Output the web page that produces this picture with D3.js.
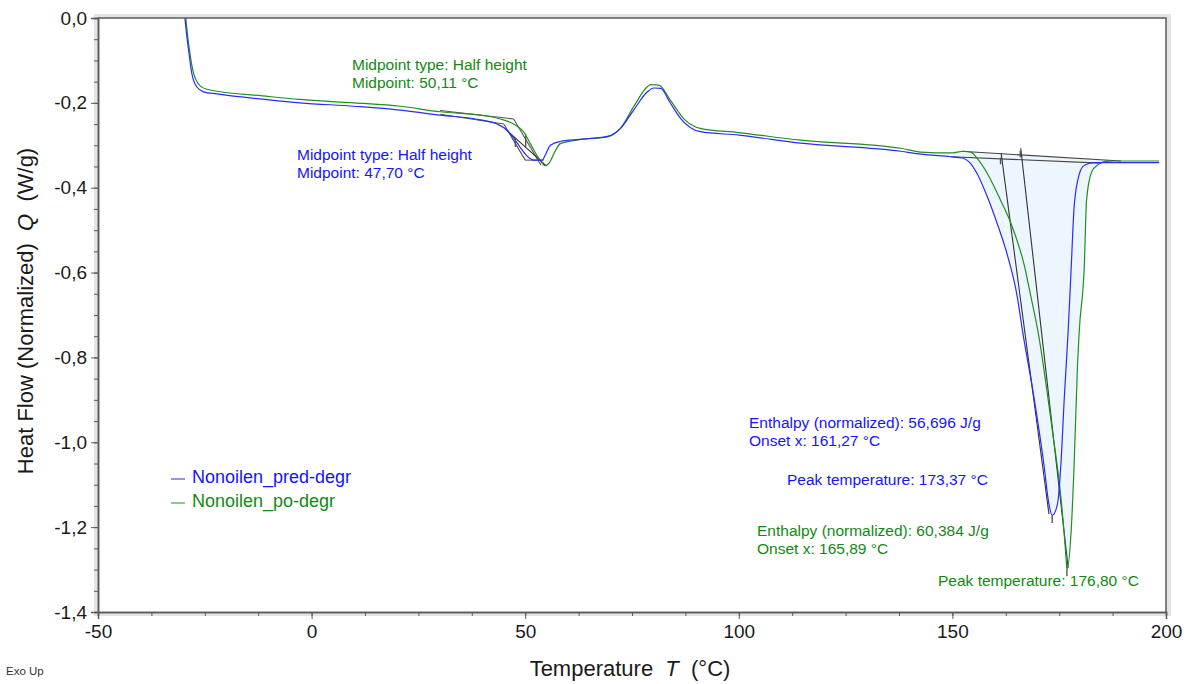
<!DOCTYPE html>
<html>
<head>
<meta charset="utf-8">
<script src="https://cdn.jsdelivr.net/npm/d3@7"></script>
<style>
  body { margin: 0; background: #fff; }
  svg { display: block; font-family: "Liberation Sans", Arial, sans-serif; }
  text { white-space: pre; }
</style>
</head>
<body>
<svg id="chart" width="1192" height="684"></svg>
<script>
// sample: Nonoilen_pred-degr (blue)
const predT = [-29.65, -29.3, -28.8, -28.05, -26.9, -25.3, -22.2, -10, -2.7, 10, 20.8, 30.1, 39.5, 43.4, 45.7, 47.3, 48.9, 50.4, 52.0, 54.0, 54.7, 55.9, 58.2, 62.9, 69.2, 72.3, 75.4, 78.6, 80.1, 81.7, 84.0, 86.4, 91.0, 100, 114.5, 137.9, 142.6, 149.6, 152.3, 153.9, 155.8, 158.2, 160.5, 162.9, 165.2, 166.4, 169.1, 171.4, 172.6, 173.37, 174.6, 175.4, 176.2, 177.1, 177.8, 178.5, 179.7, 180.9, 183.2, 189.5, 198.4];
const predQ = [0.0, -0.035, -0.075, -0.130, -0.162, -0.174, -0.179, -0.193, -0.200, -0.208, -0.217, -0.229, -0.240, -0.250, -0.264, -0.283, -0.306, -0.325, -0.335, -0.335, -0.323, -0.300, -0.291, -0.286, -0.279, -0.260, -0.217, -0.174, -0.165, -0.166, -0.201, -0.237, -0.268, -0.276, -0.295, -0.314, -0.321, -0.327, -0.330, -0.339, -0.367, -0.422, -0.485, -0.560, -0.658, -0.737, -0.894, -1.051, -1.146, -1.172, -1.146, -1.051, -0.894, -0.737, -0.590, -0.445, -0.368, -0.347, -0.341, -0.341, -0.341];

// sample: Nonoilen_po-degr (green)
const poT = [-29.45, -29.1, -28.6, -27.7, -26.1, -24.5, -10, -2.7, 10, 20.8, 30.1, 39.5, 44.2, 47.3, 49.6, 51.2, 53.2, 54.7, 55.5, 57.1, 58.2, 60.6, 62.9, 69.2, 72.3, 75.4, 78.6, 79.4, 81.3, 84.0, 87.1, 91.0, 100, 114.5, 137.9, 142.6, 149.6, 152.7, 154.3, 155.8, 158.2, 161.3, 163.9, 166.9, 168.4, 170.0, 173.4, 175.4, 176.6, 176.8, 177.8, 178.5, 179.3, 179.7, 180.9, 181.4, 182.6, 184.2, 185.9, 187.9, 198.4];
const poQ = [0.0, -0.035, -0.075, -0.127, -0.160, -0.168, -0.185, -0.192, -0.200, -0.208, -0.221, -0.229, -0.238, -0.250, -0.268, -0.296, -0.331, -0.348, -0.343, -0.312, -0.296, -0.290, -0.286, -0.280, -0.260, -0.209, -0.162, -0.157, -0.158, -0.194, -0.237, -0.260, -0.270, -0.288, -0.307, -0.316, -0.318, -0.314, -0.316, -0.331, -0.367, -0.430, -0.489, -0.586, -0.658, -0.737, -0.973, -1.130, -1.272, -1.300, -1.209, -1.051, -0.815, -0.737, -0.579, -0.430, -0.363, -0.345, -0.338, -0.337, -0.337];

// evaluation constructions [T, Q] pairs
const predTgLines = [[[30.1, -0.227], [45.0, -0.250]], [[45.0, -0.250], [50.0, -0.335]], [[50.0, -0.335], [54.3, -0.335]]];
const poTgLines = [[[30.1, -0.218], [47.3, -0.238]], [[47.3, -0.238], [53.7, -0.347]], [[45.4, -0.262], [55.0, -0.349]]];
const predTgMid = [47.70, -0.283, -0.304];
const poTgMid = [50.11, -0.276, -0.304];
const predBase = [[149.6, -0.327], [184.8, -0.342]];
const poBase = [[152.0, -0.314], [189.5, -0.337]];
const predOnsetLine = [[161.4, -0.318], [172.6, -1.169]];
const poOnsetLine = [[166.0, -0.307], [177.1, -1.296]];
const predOnset = [161.27, -0.329, -0.345];
const poOnset = [165.89, -0.313, -0.328];
const predPeak = [173.37, -1.172, -1.190];
const poPeak = [176.80, -1.300, -1.316];

const xTicks = [-50, 0, 50, 100, 150, 200];
const yTicks = [0, -0.2, -0.4, -0.6, -0.8, -1.0, -1.2, -1.4];

const seriesNames = ['Nonoilen_pred-degr', 'Nonoilen_po-degr'];
const predLabels = ['Midpoint type: Half height', 'Midpoint: 47,70 °C', 'Enthalpy (normalized): 56,696 J/g', 'Onset x: 161,27 °C', 'Peak temperature: 173,37 °C'];
const poLabels = ['Midpoint type: Half height', 'Midpoint: 50,11 °C', 'Enthalpy (normalized): 60,384 J/g', 'Onset x: 165,89 °C', 'Peak temperature: 176,80 °C'];

const BLUE = '#2a2aff', GREEN = '#1f8f1f';
const TXT_BLUE = '#1414ff', TXT_GREEN = '#128a12';

const svg = d3.select('#chart');
const L = 98, R = 1166, T = 18, B = 612;
const x = d3.scaleLinear().domain([-50, 200]).range([L, R]);
const y = d3.scaleLinear().domain([-1.4, 0]).range([B, T]);
const loc = d3.formatLocale({decimal: ',', thousands: '.', grouping: [3], currency: ['', ''], minus: '-'});

// frame shadow + plot background
svg.append('rect').attr('x', L - 4).attr('y', T - 4).attr('width', R - L + 9).attr('height', B - T + 8).attr('fill', '#e4e4e4');
svg.append('rect').attr('x', L).attr('y', T).attr('width', R - L).attr('height', B - T).attr('fill', '#fff');

svg.append('clipPath').attr('id', 'plotclip')
  .append('rect').attr('x', L).attr('y', T).attr('width', R - L).attr('height', B - T);
const plot = svg.append('g').attr('clip-path', 'url(#plotclip)');

// linear lookup used for the enthalpy fill
function interp(ts, qs, t) {
  const i = d3.bisectRight(ts, t);
  if (i <= 0) return qs[0];
  if (i >= ts.length) return qs[qs.length - 1];
  const f = (t - ts[i - 1]) / (ts[i] - ts[i - 1]);
  return qs[i - 1] + f * (qs[i] - qs[i - 1]);
}
const baseAt = t => poBase[0][1] + (t - poBase[0][0]) / (poBase[1][0] - poBase[0][0]) * (poBase[1][1] - poBase[0][1]);
const fillData = d3.range(150, 189.5, 0.1).map(t => {
  const top = baseAt(t);
  const low = Math.min(interp(predT, predQ, t), interp(poT, poQ, t), top);
  return [t, top, low];
});
plot.append('path')
  .datum(fillData)
  .attr('fill', '#edf5fd')
  .attr('d', d3.area().x(d => x(d[0])).y0(d => y(d[1])).y1(d => y(d[2])));

// construction lines
const seg = d3.line().x(d => x(d[0])).y(d => y(d[1]));
const cons = plot.append('g').attr('fill', 'none').attr('stroke-width', 1.1);
predTgLines.concat(poTgLines).forEach((s, i) => {
  cons.append('path').attr('d', seg(s)).attr('stroke', i === 5 ? '#222' : '#555');
});
[predBase, poBase].forEach(s => cons.append('path').attr('d', seg(s)).attr('stroke', '#444'));
[predOnsetLine, poOnsetLine].forEach(s => cons.append('path').attr('d', seg(s)).attr('stroke', '#333'));
[predTgMid, poTgMid, predOnset, poOnset, predPeak, poPeak].forEach(m => {
  cons.append('path').attr('d', seg([[m[0], m[1]], [m[0], m[2]]])).attr('stroke', '#555').attr('stroke-width', 1.4);
});

// curves
const line = d3.line().x(d => x(d[0])).y(d => y(d[1])).curve(d3.curveMonotoneX);
plot.append('path').datum(d3.zip(poT, poQ))
  .attr('fill', 'none').attr('stroke', GREEN).attr('stroke-width', 1.2).attr('d', line);
plot.append('path').datum(d3.zip(predT, predQ))
  .attr('fill', 'none').attr('stroke', BLUE).attr('stroke-width', 1.2).attr('d', line);

// top and right border
svg.append('path').attr('d', `M${L},${T}H${R}V${B}`).attr('fill', 'none').attr('stroke', '#5a5a5a').attr('stroke-width', 1.5);

// axes
function styleAxis(g) {
  g.select('.domain').attr('stroke', '#5a5a5a').attr('stroke-width', 1.5);
  g.selectAll('.tick line').attr('stroke', '#5a5a5a');
  g.selectAll('.tick text').attr('fill', '#1a1a1a').attr('font-size', 19);
}
svg.append('g').attr('transform', `translate(0,${B})`)
  .call(d3.axisBottom(x).tickValues(d3.range(-50, 200.1, 12.5)).tickSize(4).tickFormat(''))
  .call(styleAxis);
svg.append('g').attr('transform', `translate(${L},0)`)
  .call(d3.axisLeft(y).tickValues(d3.range(0, 28.1, 1).map(i => -i * 0.05)).tickSize(4).tickFormat(''))
  .call(styleAxis);
svg.append('g').attr('transform', `translate(0,${B})`)
  .call(d3.axisBottom(x).tickValues(xTicks).tickSize(7).tickPadding(6).tickFormat(loc.format('d')))
  .call(styleAxis);
svg.append('g').attr('transform', `translate(${L},0)`)
  .call(d3.axisLeft(y).tickValues(yTicks).tickSize(7).tickPadding(4).tickFormat(loc.format('.1f')))
  .call(styleAxis);

// axis titles
const xt = svg.append('text').attr('x', 630).attr('y', 676).attr('text-anchor', 'middle')
  .attr('font-size', 22).attr('fill', '#1a1a1a');
xt.append('tspan').text('Temperature  ');
xt.append('tspan').attr('font-style', 'italic').text('T');
xt.append('tspan').text('  (°C)');

const yt = svg.append('text').attr('transform', 'translate(33,311) rotate(-90)').attr('text-anchor', 'middle')
  .attr('font-size', 22).attr('fill', '#1a1a1a');
yt.append('tspan').text('Heat Flow (Normalized)  ');
yt.append('tspan').attr('font-style', 'italic').text('Q');
yt.append('tspan').text('  (W/g)');

svg.append('text').attr('x', 6).attr('y', 675).attr('font-size', 11.5).attr('fill', '#333').text('Exo Up');

// legend
[[BLUE, TXT_BLUE, 479], [GREEN, TXT_GREEN, 503]].forEach((c, i) => {
  svg.append('line').attr('x1', 171).attr('x2', 185).attr('y1', c[2]).attr('y2', c[2])
    .attr('stroke', c[0]).attr('stroke-width', 1);
  svg.append('text').attr('x', 192).attr('y', c[2] + 4).attr('font-size', 18).attr('fill', c[1]).text(seriesNames[i]);
});

// annotations
function note(lines, color, px, py) {
  const t = svg.append('text').attr('font-size', 15.5).attr('fill', color);
  lines.forEach((s, i) => t.append('tspan').attr('x', px).attr('y', py + i * 18).text(s));
}
note(poLabels.slice(0, 2), TXT_GREEN, 352, 70);
note(predLabels.slice(0, 2), TXT_BLUE, 297, 160);
note(predLabels.slice(2, 4), TXT_BLUE, 749, 428);
note(predLabels.slice(4), TXT_BLUE, 787, 485);
note(poLabels.slice(2, 4), TXT_GREEN, 757, 536);
note(poLabels.slice(4), TXT_GREEN, 938, 586);
</script>
</body>
</html>
